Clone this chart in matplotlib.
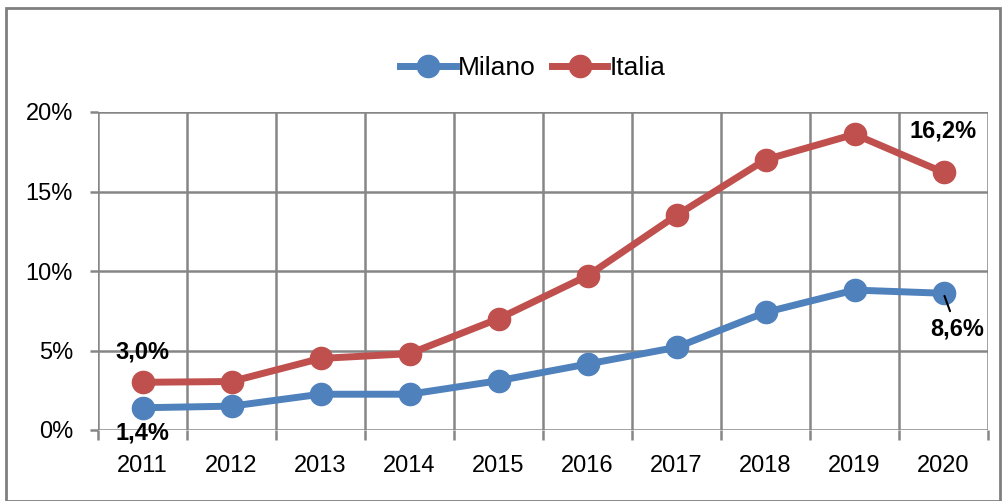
import matplotlib
matplotlib.use("Agg")
import matplotlib.pyplot as plt
from matplotlib.patches import Rectangle

years = ["2011", "2012", "2013", "2014", "2015", "2016", "2017", "2018", "2019", "2020"]
milano = [1.4, 1.5, 2.25, 2.25, 3.1, 4.15, 5.2, 7.4, 8.8, 8.6]
italia = [3.0, 3.05, 4.5, 4.8, 7.0, 9.7, 13.5, 17.0, 18.6, 16.2]
yticks = [0, 5, 10, 15, 20]

plt.rcParams['font.family'] = ['Liberation Sans', 'DejaVu Sans']

W, H = 1008, 501
fig = plt.figure(figsize=(W / 100, H / 100), dpi=100)
ax = fig.add_axes([98 / W, (H - 430) / H, (988 - 98) / W, (430 - 112) / H])

x = list(range(1, len(years) + 1))
ax.plot(x, milano, color='#4F81BD', lw=5, marker='o', ms=16, label='Milano', zorder=3)
ax.plot(x, italia, color='#C0504D', lw=5, marker='o', ms=16, label='Italia', zorder=3)

ax.set_xlim(0.5, len(years) + 0.5)
ax.set_ylim(0, 20)
ax.set_yticks(yticks)
ax.set_yticklabels([f"{v}%" for v in yticks])
ax.set_xticks(x)
ax.set_xticklabels(years)
ax.set_xticks([i + 0.5 for i in range(len(years) + 1)], minor=True)

gc = '#868686'
for b in [i + 0.5 for i in range(len(years) + 1)]:
    ax.axvline(b, color=gc, lw=1.8, zorder=1)
for v in yticks:
    ax.axhline(v, color=gc, lw=1.8, zorder=1)
for s in ax.spines.values():
    s.set_visible(False)

ax.tick_params(axis='x', which='major', length=0, labelsize=17, pad=18)
ax.tick_params(axis='x', which='minor', length=7, width=1.8, color=gc)
ax.tick_params(axis='y', length=6, width=1.8, color=gc, labelsize=17, pad=12)

# data labels
lbl = dict(ha='center', va='center', fontsize=17, fontweight='bold',
           textcoords='offset points', zorder=5)
ax.annotate("3,0%", (1, italia[0]), xytext=(0, 22), **lbl)
ax.annotate("1,4%", (1, milano[0]), xytext=(0, -18), **lbl)
ax.annotate("16,2%", (10, italia[-1]), xytext=(0, 29.5), **lbl)
ax.annotate("8,6%", (10, milano[-1]), xytext=(9.5, -26), **lbl,
            arrowprops=dict(arrowstyle='-', color='black', lw=1.5, shrinkA=3, shrinkB=2))

fig.legend(loc='center', bbox_to_anchor=(533 / W, (H - 68) / H), ncol=2, frameon=False,
           fontsize=19, handlelength=2.1, columnspacing=0.6, handletextpad=0.1)

fig.patches.append(Rectangle((6 / W, 0), (1000 - 6) / W, (H - 8) / H, transform=fig.transFigure,
                             fill=False, edgecolor='#7f7f7f', lw=2))

fig.savefig("out.png", dpi=100)
